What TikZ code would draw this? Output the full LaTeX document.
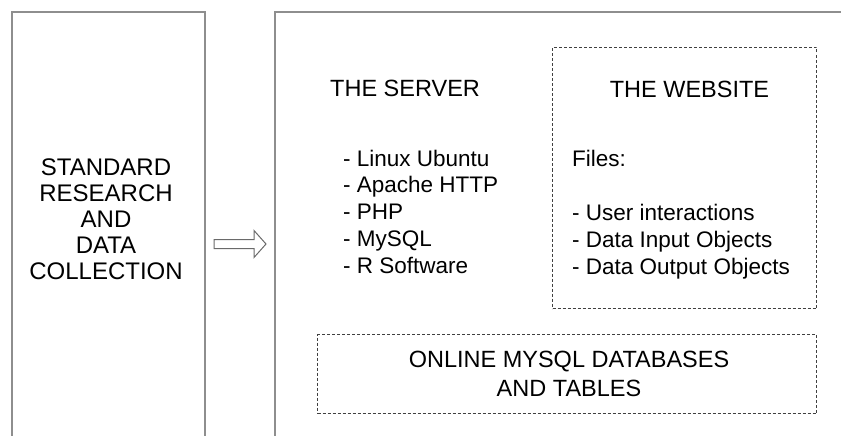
\documentclass[tikz,border=0pt]{standalone}
\usepackage{fontspec}
\setmainfont{Liberation Sans}
\usetikzlibrary{calc}
\definecolor{boxgray}{HTML}{8E8E8E}
\definecolor{dashgray}{HTML}{404040}
\definecolor{arrgray}{HTML}{6A6A6A}
\definecolor{txt}{HTML}{000000}
\begin{document}
\begin{tikzpicture}[x=1pt,y=-1pt,
  outerbox/.style={draw=boxgray,line width=2pt,rectangle,inner sep=0pt},
  dashbox/.style={draw=dashgray,line width=1pt,dash pattern=on 3pt off 2pt,rectangle,inner sep=0pt},
  txtnode/.style={inner sep=0pt,text=txt},
  hdr/.style={txtnode,font=\fontsize{23.5}{28}\selectfont},
  item/.style={txtnode,anchor=base west,font=\fontsize{22.5}{27}\selectfont},
  arrowline/.style={draw=arrgray,line width=1pt,line join=miter}]
\useasboundingbox (0,0) rectangle (841,436);
% outer boxes (cut off at the bottom / right edge)
\node[outerbox,anchor=north west,minimum width=193pt,minimum height=464pt] (src) at (11,11) {};
\node[outerbox,anchor=north west,minimum width=600pt,minimum height=464pt] (srv) at (274,11) {};
% inner dashed boxes
\node[dashbox,anchor=north west,minimum width=264pt,minimum height=261pt] (web) at (552,47) {};
\node[dashbox,anchor=north west,minimum width=499pt,minimum height=79pt] (db) at (317,334) {};
% block arrow from src to srv
\coordinate (a0) at ($(src.east)+(8,0)$);
\coordinate (a1) at ($(srv.west)+(-8,0)$);
\draw[arrowline] ($(a0)+(0,-4.5)$) -- ($(a1)+(-12,-4.5)$) -- ($(a1)+(-12,-13.5)$) -- (a1)
  -- ($(a1)+(-12,13.5)$) -- ($(a1)+(-12,4.5)$) -- ($(a0)+(0,4.5)$) -- cycle;
% left text
\node[txtnode,align=center,font=\fontsize{24}{26}\selectfont] (srclbl) at (106,219)
  {STANDARD\\RESEARCH\\AND\\DATA\\COLLECTION};
% server
\node[hdr,anchor=base west] (srvtitle) at (330,96) {THE SERVER};
\node[item] (s1) at (343,166) {- Linux Ubuntu};
\node[item] (s2) at (343,192.75) {- Apache HTTP};
\node[item] (s3) at (343,219.5) {- PHP};
\node[item] (s4) at (343,246.25) {- MySQL};
\node[item] (s5) at (343,273) {- R Software};
% website
\node[hdr,anchor=base] (webtitle) at (689.5,97) {THE WEBSITE};
\node[item] (w0) at (572,166) {Files:};
\node[item] (w1) at (572,220) {- User interactions};
\node[item] (w2) at (572,247) {- Data Input Objects};
\node[item] (w3) at (572,274) {- Data Output Objects};
% database
\node[txtnode,align=center,font=\fontsize{23.5}{28.5}\selectfont] (dblbl) at ($(db.center)+(2,0)$)
  {ONLINE MYSQL DATABASES\\AND TABLES};
\end{tikzpicture}
\end{document}
